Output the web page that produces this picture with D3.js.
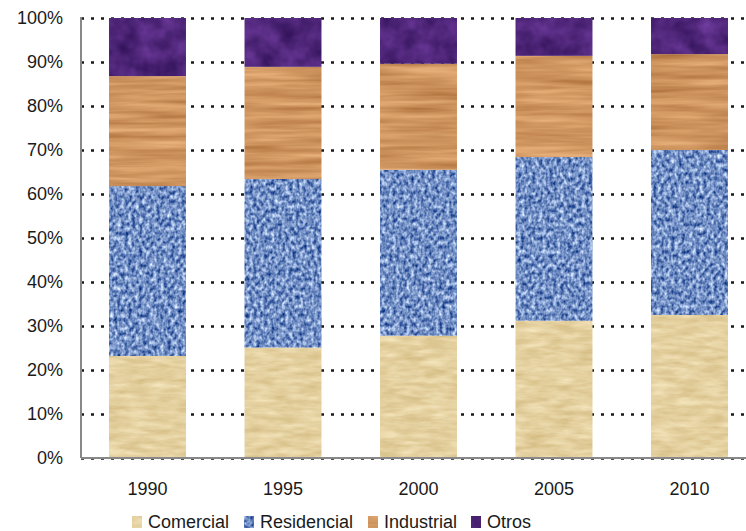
<!DOCTYPE html>
<html>
    <head>
        <script src="https://cdn.jsdelivr.net/npm/d3@7/dist/d3.min.js"></script>
        <style>
            body{ margin:0; background:#fff; }
            .chart text{
                font: 18px "Liberation Sans", Arial, sans-serif;
                fill: #1a1a1a;
            }
            .grid line{
                stroke:#1a1a1a;
                stroke-width:2.5;
                stroke-dasharray:3,7;
            }
            .grid path{ display:none; }
            .axis--x path, .axis--x line{ display:none; }
        </style>
    </head>
    <body>
        <svg class="chart" width="746" height="531"></svg>
        <script>
            var years = ["1990","1995","2000","2005","2010"];
            var series = ["Comercial","Residencial","Industrial","Otros"];
            var comercial   = [23.2, 25.1, 27.8, 31.2, 32.5];
            var residencial = [38.6, 38.3, 37.7, 37.2, 37.5];
            var industrial  = [25.0, 25.5, 24.1, 23.0, 21.8];
            var otros       = [13.2, 11.1, 10.4,  8.6,  8.2];
            var yTicks = [0,0.1,0.2,0.3,0.4,0.5,0.6,0.7,0.8,0.9,1];

            var data = years.map(function(y,i){
                return {year:y, Comercial:comercial[i], Residencial:residencial[i], Industrial:industrial[i], Otros:otros[i]};
            });

            // texture settings: noise frequency, dark/light colours, contrast
            var textures = {
                Comercial:   {freq:"0.04 0.18", oct:3, dark:[214,190,134], light:[242,226,184], gain:1.5},
                Residencial: {freq:"0.28 0.22", oct:2, dark:[50,85,155],   light:[180,202,238], gain:2.4},
                Industrial:  {freq:"0.01 0.15", oct:3, dark:[185,125,72],  light:[228,172,118], gain:1.8},
                Otros:       {freq:"0.05",      oct:3, dark:[58,24,98],    light:[100,52,145],  gain:1.8}
            };

            var svg = d3.select("svg");
            var margin = {left:81, top:18, bottom:458};

            var y = d3.scaleLinear().domain([0,1]).range([margin.bottom, margin.top]);
            var x = d3.scaleBand().domain(years).range([79.75, 757.25]).paddingInner(0.432).paddingOuter(0.216);

            var defs = svg.append("defs");
            series.forEach(function(s,i){
                var t = textures[s];
                var f = defs.append("filter").attr("id","tex"+i)
                    .attr("x",0).attr("y",0).attr("width",1).attr("height",1)
                    .attr("color-interpolation-filters","sRGB");
                f.append("feTurbulence").attr("type","fractalNoise")
                    .attr("baseFrequency",t.freq).attr("numOctaves",t.oct).attr("seed",i+3)
                    .attr("result","noise");
                var d = t.dark.map(function(v){return v/255;});
                var l = t.light.map(function(v){return v/255;});
                var row = function(c){
                    var r = l[c]-d[c];
                    return [r*t.gain,0,0,0, d[c]+r*(0.5-0.5*t.gain)].join(" ");
                };
                f.append("feColorMatrix").attr("in","noise").attr("type","matrix")
                    .attr("values",[row(0),row(1),row(2),"0 0 0 0 1"].join(" "))
                    .attr("result","col");
                f.append("feComposite").attr("in","col").attr("in2","SourceGraphic").attr("operator","in");
            });

            // dotted grid
            svg.append("g").attr("class","grid")
                .attr("transform","translate("+margin.left+",0)")
                .call(d3.axisLeft(y).tickValues(yTicks).tickSize(-(746-margin.left)).tickPadding(18)
                    .tickFormat(d3.format(".0%")))
                .selectAll("text").attr("x",-18);

            var stack = d3.stack().keys(series).offset(d3.stackOffsetExpand);
            var layers = stack(data);

            svg.append("g").selectAll("g").data(layers).enter().append("g")
                .attr("filter",function(d,i){return "url(#tex"+i+")";})
                .selectAll("rect").data(function(d){return d;})
                .enter().append("rect")
                .attr("x",function(d){return x(d.data.year);})
                .attr("width",x.bandwidth())
                .attr("y",function(d){return y(d[1]);})
                .attr("height",function(d){return y(d[0]) - y(d[1]);})
                .attr("fill","#000");

            // axis lines
            svg.append("line").attr("x1",margin.left).attr("x2",margin.left)
                .attr("y1",margin.top-1).attr("y2",margin.bottom)
                .attr("stroke","#888").attr("stroke-width",2);
            svg.append("line").attr("x1",margin.left).attr("x2",746)
                .attr("y1",margin.bottom).attr("y2",margin.bottom)
                .attr("stroke","#888").attr("stroke-width",2);

            svg.append("g").attr("class","axis axis--x")
                .attr("transform","translate(0,"+margin.bottom+")")
                .call(d3.axisBottom(x).tickSize(0).tickPadding(24));

            // legend
            var legendX = [132,244,368,471];
            var lg = svg.append("g").selectAll("g").data(series).enter().append("g")
                .attr("transform",function(d,i){return "translate("+legendX[i]+",516)";});
            lg.append("rect").attr("width",10).attr("height",12).attr("fill","#000")
                .attr("filter",function(d,i){return "url(#tex"+i+")";});
            lg.append("text").attr("x",16).attr("y",6).attr("dy","0.35em").text(function(d){return d;});
        </script>
    </body>
</html>
